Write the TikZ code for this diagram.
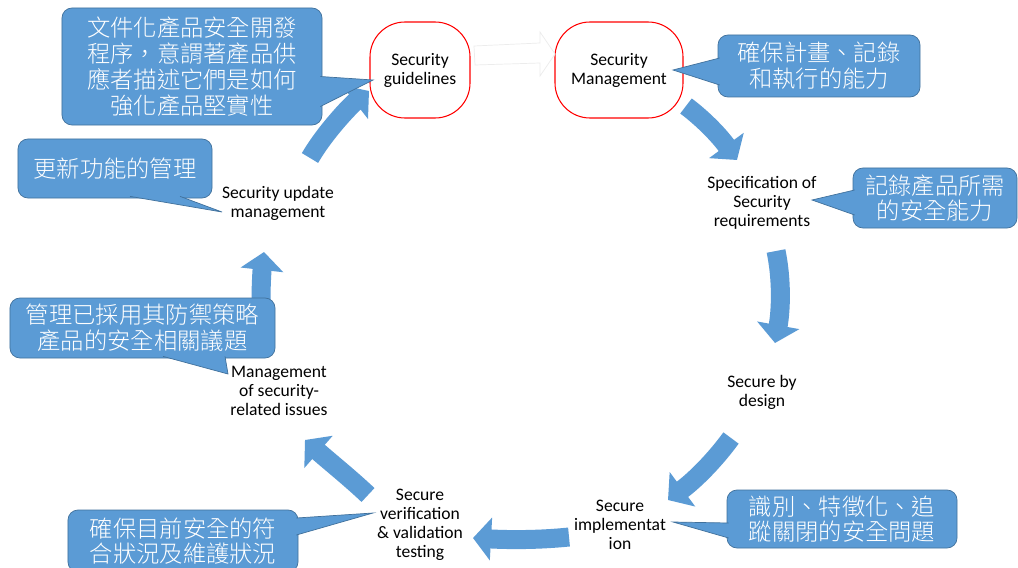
\documentclass[tikz,border=0pt]{standalone}
\usepackage{fontspec}
\setmainfont{Carlito}
\newfontfamily\cjk[UprightFont={* Light}]{Noto Sans CJK TC}
\usepackage{xcolor}
\usepackage{tikz}
\usetikzlibrary{arrows.meta, calc}

\definecolor{noteblue}{HTML}{5B9BD5}
\definecolor{noteedge}{HTML}{41719C}

\begin{document}
\begin{tikzpicture}[x=0.03cm, y=-0.03cm,
  stage/.style={align=center, font=\fontsize{15}{16.2}\selectfont, inner sep=0pt},
  oval/.style={draw=red, line width=0.9pt, rounded corners=1.05cm, minimum width=#1, minimum height=2.88cm},
  note/.style={fill=noteblue, draw=noteedge, line width=0.6pt, rounded corners=0.3cm, text=white, align=center, inner sep=0pt, font=\cjk\fontsize{19.9}{22}\selectfont},
  notetip/.style={fill=noteblue, draw=noteedge, line width=0.6pt},
  cyc/.style={draw=noteblue, line width=0.57cm, -{Triangle[width=1.26cm, length=0.54cm]}}]

\useasboundingbox (0,0) rectangle (1018,568);
\fill[white] (0,0) rectangle (1018,568);

% stages of the cycle
\node[stage, oval=3cm] (guide) at (420,70) {Security\\guidelines};
\node[stage, oval=3.84cm] (mgmt) at (619,70) {Security\\Management};
\node[stage] (spec) at (762,203) {Specification of\\Security\\requirements};
\node[stage] (design) at (762,392) {Secure by\\design};
\node[stage] (impl) at (620,525) {Secure\\implementat\\ion};
\node[stage] (verif) at (420,525) {Secure\\verification\\\& validation\\testing};
\node[stage] (issues) at (279,391) {Management\\of security-\\related issues};
\node[stage] (update) at (278,203) {Security update\\management};

% faint arrow guidelines -> management
\draw[gray!15, fill=white, line width=0.6pt] (474,46) -- (540,43) -- (540,32) -- (555,54)
  -- (540,76) -- (540,63) -- (475,65) -- cycle;

% cycle arrows
\draw[cyc] ($(update)+(32,-45)$) .. controls +(15,-26) and +(-18,14) .. ($(guide)+(-51,21)$);
\draw[cyc] ($(mgmt)+(67,36)$) .. controls +(16,12) and +(-19,-26) .. ($(spec)+(-25,-43)$);
\draw[cyc] ($(spec)+(14,48)$) .. controls +(6,29) and +(6,-33) .. ($(design)+(13,-49)$);
\draw[cyc] ($(design)+(-31,46)$) .. controls +(-16,22) and +(27,-20) .. ($(impl)+(48,-25)$);
\draw[cyc] ($(impl)+(-51,12)$) .. controls +(-29,3) and +(37,2) .. ($(verif)+(53,13)$);
\draw[cyc] ($(verif)+(-52,-30)$) .. controls +(-18,-17) and +(25,22) .. ($(issues)+(26,49)$);
\draw[cyc] ($(issues)+(-18,-91)$) .. controls +(0,-15) and +(-2,18) .. ($(update)+(-14,49)$);

% notes
\node[note, minimum width=7.8cm, minimum height=3.51cm] (n1) at (192,66.5)
  {文件化產品安全開發\\程序，意謂著產品供\\應者描述它們是如何\\強化產品堅實性};
\coordinate (n1tip) at ($(guide)+(-47,10)$);
\filldraw[notetip] ($(n1.east)+(-2,10)$) -- (n1tip) -- ($(n1.east)+(-2,40)$);

\node[note, minimum width=5.82cm, minimum height=1.77cm] (n2) at (115,168.5) {更新功能的管理};
\coordinate (n2tip) at ($(update)+(-56,9)$);
\filldraw[notetip] ($(n2.south)+(15,-2)$) -- (n2tip) -- ($(n2.south)+(65,-2)$);

\node[note, minimum width=6.06cm, minimum height=1.86cm] (n3) at (819,66) {確保計畫、記錄\\和執行的能力};
\coordinate (n3tip) at ($(mgmt)+(54,0)$);
\filldraw[notetip] ($(n3.west)+(2,-8)$) -- (n3tip) -- ($(n3.west)+(2,19)$);

\node[note, minimum width=4.92cm, minimum height=1.8cm] (n4) at (935,198) {記錄產品所需\\的安全能力};
\coordinate (n4tip) at ($(spec)+(50,-3)$);
\filldraw[notetip] ($(n4.west)+(2,-8)$) -- (n4tip) -- ($(n4.west)+(2,17)$);

\node[note, minimum width=7.95cm, minimum height=1.8cm] (n5) at (142.5,328) {管理已採用其防禦策略\\產品的安全相關議題};
\coordinate (n5tip) at ($(issues)+(-51,-17)$);
\filldraw[notetip] ($(n5.south)+(20.5,-2)$) -- (n5tip) -- ($(n5.south)+(82.5,-2)$);

\node[note, minimum width=6.9cm, minimum height=1.86cm] (n6) at (183,541) {確保目前安全的符\\合狀況及維護狀況};
\coordinate (n6tip) at ($(verif)+(-47,-12)$);
\filldraw[notetip] ($(n6.east)+(-2,-23)$) -- (n6tip) -- ($(n6.east)+(-2,-6)$);

\node[note, minimum width=6.9cm, minimum height=1.74cm] (n7) at (842,519) {識別、特徵化、追\\蹤關閉的安全問題};
\coordinate (n7tip) at ($(impl)+(53,-3)$);
\filldraw[notetip] ($(n7.west)+(2,4)$) -- (n7tip) -- ($(n7.west)+(2,19)$);

\end{tikzpicture}
\end{document}
